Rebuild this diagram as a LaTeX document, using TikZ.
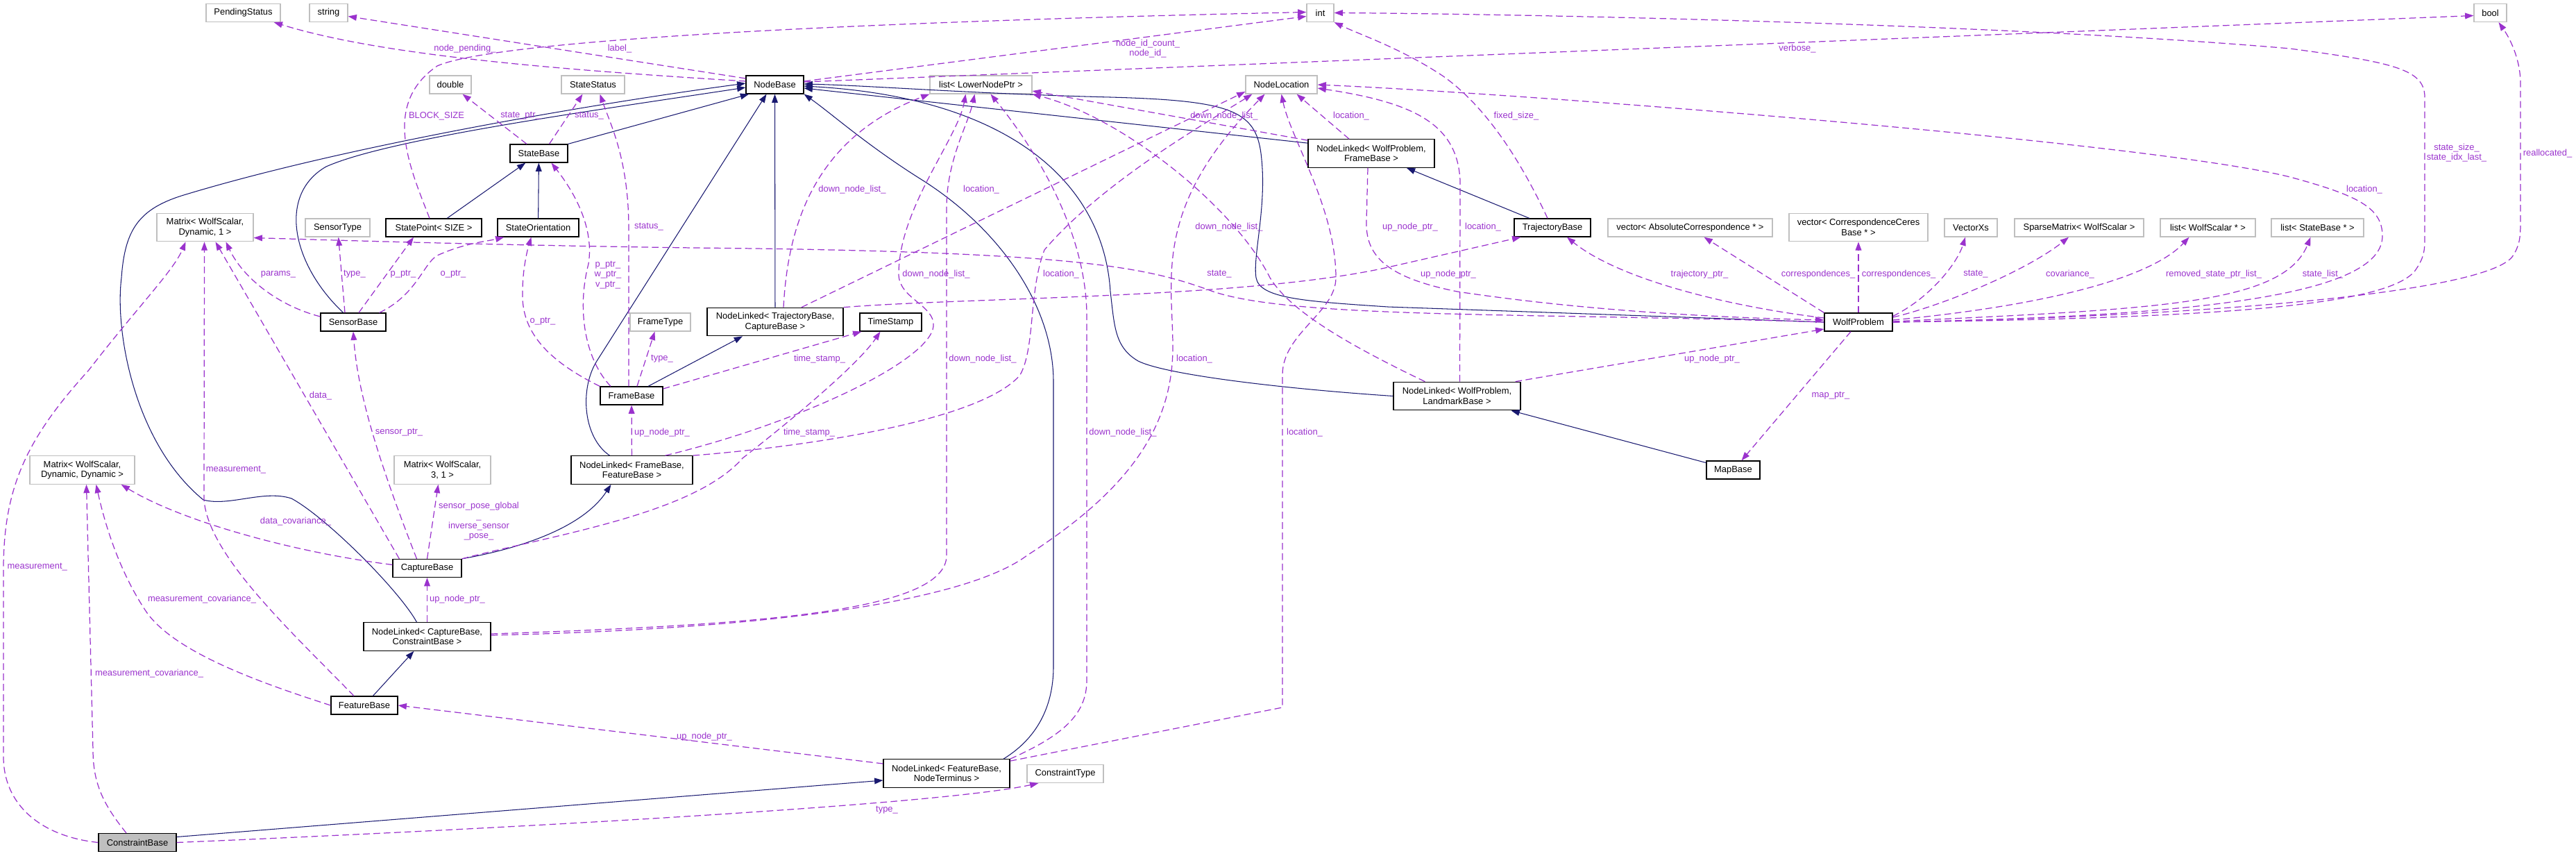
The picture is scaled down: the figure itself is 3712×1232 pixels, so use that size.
\documentclass[tikz,border=0pt]{standalone}
\usepackage{fontspec}
\setmainfont{Liberation Sans}
\usetikzlibrary{arrows.meta,calc}
\definecolor{edgeblue}{HTML}{191970}
\definecolor{edgepurple}{HTML}{9A32CD}
\definecolor{boxgray}{HTML}{BFBFBF}
\tikzset{
  cls/.style={draw=black, line width=0.7pt, fill=white, inner sep=0pt, minimum height=0.52cm, align=center, font=\fontsize{7.36}{8.2}\selectfont},
  ext/.style={cls, draw=boxgray},
  two/.style={minimum height=0.81cm},
  inh/.style={edgeblue, line width=0.6pt, -{Triangle[length=7pt,width=5pt]}},
  dep/.style={edgepurple, line width=0.7pt, dash pattern=on 5.5pt off 3pt, -{Triangle[length=7pt,width=5pt]}},
  lbl/.style={inner sep=0pt, align=center, font=\fontsize{7.36}{8.2}\selectfont}
}
\begin{document}
\begin{tikzpicture}[x=0.02cm, y=-0.02cm]
\useasboundingbox (0,0) rectangle (3712,1232);

% classes
\node[ext, minimum width=2.14cm] (pending) at (350.5,18.5) {PendingStatus};
\node[ext, minimum width=1.10cm] (string) at (473.5,18.5) {string};
\node[ext, minimum width=0.78cm] (int) at (1902.5,18.5) {int};
\node[ext, minimum width=0.94cm] (bool) at (3588.5,18.5) {bool};

\node[cls, minimum width=1.66cm] (nodebase) at (1116.5,122) {NodeBase};
\node[ext, minimum width=2.94cm] (lowerlist) at (1413.5,122) {list< LowerNodePtr >};
\node[ext, minimum width=2.06cm] (nodeloc) at (1846.5,122) {NodeLocation};
\node[ext, minimum width=1.20cm] (double) at (649,122) {double};
\node[ext, minimum width=1.82cm] (statestatus) at (854.5,122) {StateStatus};
\node[cls, minimum width=1.66cm] (statebase) at (776.5,221) {StateBase};
\node[cls, two, minimum width=3.64cm] (nlwpframe) at (1976,221) {NodeLinked< WolfProblem,\\ FrameBase >};

\node[ext, two, minimum width=2.78cm] (matdyn1) at (295.5,327.5) {Matrix< WolfScalar,\\ Dynamic, 1 >};
\node[ext, minimum width=1.86cm] (sensortype) at (486.5,328) {SensorType};
\node[cls, minimum width=2.76cm] (statepoint) at (625,328) {StatePoint< SIZE >};
\node[cls, minimum width=2.34cm] (stateorient) at (775.5,328) {StateOrientation};
\node[cls, minimum width=2.20cm] (trajbase) at (2237,328) {TrajectoryBase};
\node[ext, minimum width=4.74cm] (vecabs) at (2435.5,328) {vector< AbsoluteCorrespondence * >};
\node[ext, two, minimum width=4.00cm] (vecceres) at (2678,327.5) {vector< CorrespondenceCeres\\ Base * >};
\node[ext, minimum width=1.52cm] (vectorxs) at (2840,328) {VectorXs};
\node[ext, minimum width=3.72cm] (sparse) at (2996,328) {SparseMatrix< WolfScalar >};
\node[ext, minimum width=2.74cm] (listscalar) at (3181.5,328) {list< WolfScalar * >};
\node[ext, minimum width=2.66cm] (liststate) at (3339.5,328) {list< StateBase * >};

\node[cls, minimum width=1.88cm] (sensorbase) at (509,464) {SensorBase};
\node[ext, minimum width=1.74cm] (frametype) at (951.5,464) {FrameType};
\node[cls, two, minimum width=3.92cm] (nltrajcap) at (1117,463.5) {NodeLinked< TrajectoryBase,\\ CaptureBase >};
\node[cls, minimum width=1.78cm] (timestamp) at (1283.5,464) {TimeStamp};
\node[cls, minimum width=1.96cm] (wolfproblem) at (2678,464) {WolfProblem};

\node[cls, minimum width=1.80cm] (framebase) at (910,570) {FrameBase};
\node[cls, two, minimum width=3.66cm] (nlwpland) at (2099.5,570.5) {NodeLinked< WolfProblem,\\ LandmarkBase >};

\node[ext, two, minimum width=3.02cm] (matdyndyn) at (118.5,677) {Matrix< WolfScalar,\\ Dynamic, Dynamic >};
\node[ext, two, minimum width=2.78cm] (mat31) at (637.5,677) {Matrix< WolfScalar,\\ 3, 1 >};
\node[cls, two, minimum width=3.50cm] (nlframefeat) at (910.5,677) {NodeLinked< FrameBase,\\ FeatureBase >};
\node[cls, minimum width=1.54cm] (mapbase) at (2497.5,677) {MapBase};

\node[cls, minimum width=1.98cm] (capturebase) at (615.5,818.5) {CaptureBase};
\node[cls, two, minimum width=3.66cm] (nlcapcons) at (615.5,917) {NodeLinked< CaptureBase,\\ ConstraintBase >};
\node[cls, minimum width=1.92cm] (featurebase) at (525,1016) {FeatureBase};
\node[cls, two, minimum width=3.64cm] (nlfeatterm) at (1364,1114) {NodeLinked< FeatureBase,\\ NodeTerminus >};
\node[ext, minimum width=2.20cm] (constrtype) at (1535,1114.5) {ConstraintType};
\node[cls, fill=boxgray, minimum width=2.24cm] (constraintbase) at (198,1213.5) {ConstraintBase};

% inheritance
\draw[inh] (statebase.north east) -- (nodebase.200);
\draw[inh] (statepoint) -- (statebase);
\draw[inh] (stateorient) -- (statebase);
\draw[inh] (sensorbase) .. controls (420,380) and (400,280) .. (470,240) .. controls (560,200) and (850,160) .. ($(nodebase.west)+(0,4)$);
\draw[inh] ($(nlcapcons.north)+(-15,0)$) .. controls (575,850) and (470,745) .. (420,718) .. controls (380,705) and (330,730) .. (293,720) .. controls (195,640) and (165,480) .. (175,400) .. controls (180,330) and (200,300) .. (268,280) .. controls (500,210) and (850,150) .. ($(nodebase.west)+(0,-2)$);
\draw[inh] (nltrajcap) -- (nodebase);
\draw[inh] ($(nlframefeat.north)+(-32,0)$) .. controls (840,630) and (835,560) .. (860,520) -- ($(nodebase.south)+(-12,0)$);
\draw[inh] ($(framebase.north)+(24,0)$) -- ($(nltrajcap.south)+(-47,0)$);
\draw[inh] (capturebase.north east) .. controls (750,790) and (840,760) .. ($(nlframefeat.south)+(-30,0)$);
\draw[inh] (featurebase) -- (nlcapcons);
\draw[inh] ($(constraintbase.east)+(0,-8)$) -- ($(nlfeatterm.west)+(0,10)$);
\draw[inh] ($(nlfeatterm.north)+(82,0)$) .. controls (1500,1060) and (1518,1010) .. (1518,960) -- (1518,550) .. controls (1518,440) and (1440,330) .. (1330,260) .. controls (1250,210) and (1200,165) .. (nodebase.south east);
\draw[inh] (nlwpland.west) .. controls (1850,560) and (1680,540) .. (1640,520) .. controls (1606,500) and (1606,470) .. (1600,420) .. controls (1590,260) and (1450,140) .. ($(nodebase.east)+(0,2)$);
\draw[inh] ($(nlwpframe.north west)+(0,6)$) -- ($(nodebase.east)+(0,5)$);
\draw[inh] (wolfproblem.west) -- (2000,442) .. controls (1880,434) and (1815,430) .. (1810,400) .. controls (1805,370) and (1825,300) .. (1818,230) .. controls (1812,160) and (1780,145) .. (1600,140) .. controls (1400,135) and (1250,123) .. ($(nodebase.east)+(0,-1)$);
\draw[inh] (trajbase) -- (nlwpframe);
\draw[inh] (mapbase) -- (nlwpland);

% members
\draw[dep] ($(nodebase.west)+(0,-5)$) .. controls (800,100) and (550,80) .. (pending) node[lbl] (lpending) at (670,70) {node\_pending\_};
\draw[dep] ($(nodebase.west)+(0,-9)$) -- ($(string.east)+(0,5)$) node[lbl] (llabel) at (893,70) {label\_};
\draw[dep] ($(nodebase.east)+(0,-5)$) -- ($(int.west)+(0,5)$) node[lbl] (lnodeid) at (1654,70) {node\_id\_count\_\\node\_id\_};
\draw[dep] ($(statepoint.north)+(-6,0)$) .. controls (590,240) and (550,150) .. (630,95) .. controls (720,55) and (1300,30) .. ($(int.west)+(0,-1)$) node[lbl] (lblock) at (629,167) {BLOCK\_SIZE};
\draw[dep] ($(trajbase.north)+(-7,0)$) .. controls (2200,250) and (2150,160) .. (2080,110) .. controls (2020,70) and (1960,50) .. (int.south east) node[lbl] (lfixed) at (2185,167) {fixed\_size\_};
\draw[dep] ($(nodebase.east)+(0,-4)$) -- ($(bool.west)+(0,4)$) node[lbl] (lverbose) at (2590,70) {verbose\_};
\draw[dep] (wolfproblem.east) .. controls (3200,458) and (3440,440) .. (3480,390) .. controls (3494,370) and (3494,360) .. (3494,340) -- (3494,140) .. controls (3494,100) and (3450,90) .. (3300,70) .. controls (2900,35) and (2200,20) .. (int.east) node[lbl] (lstatesize) at (3540,220) {state\_size\_\\state\_idx\_last\_};
\draw[dep] (wolfproblem.east) .. controls (3200,455) and (3580,420) .. (3620,370) .. controls (3630,355) and (3632,345) .. (3632,320) -- (3632,120) .. controls (3632,90) and (3620,60) .. ($(bool.south)+(12,0)$) node[lbl] (lrealloc) at (3671,221) {reallocated\_};
\draw[dep] (wolfproblem.east) .. controls (3200,455) and (3433,420) .. (3433,340) .. controls (3433,300) and (3400,282) .. (3300,255) .. controls (3100,205) and (2200,135) .. (nodeloc.east) node[lbl] (lwploc) at (3407,273) {location\_};

\draw[dep] (statebase) -- (double) node[lbl] (lstateptr) at (750,167) {state\_ptr\_};
\draw[dep] ($(statebase.north)+(15,0)$) -- ($(statestatus.south)+(-15,0)$) node[lbl] (lstatus) at (849,167) {status\_};
\draw[dep] ($(framebase.north)+(-4,0)$) -- (906,330) .. controls (906,230) and (880,180) .. ($(statestatus.south)+(10,0)$) node[lbl] (lstatus2) at (935,327) {status\_};
\draw[dep] ($(framebase.north)+(-30,0)$) .. controls (845,520) and (830,450) .. (848,380) .. controls (856,330) and (830,280) .. ($(statebase.south)+(18,0)$) node[lbl] (lpptr) at (876,396) {p\_ptr\_\\w\_ptr\_\\v\_ptr\_};
\draw[dep] (framebase.north west) .. controls (790,520) and (755,480) .. (753,430) .. controls (752,390) and (760,360) .. ($(stateorient.south)+(-10,0)$) node[lbl] (loptr) at (782,463) {o\_ptr\_};
\draw[dep] ($(framebase.north)+(8,0)$) -- ($(frametype.south)+(-8,0)$) node[lbl] (ltype) at (954,517) {type\_};
\draw[dep] ($(framebase.east)+(0,-10)$) -- ($(timestamp.south west)+(3,0)$) node[lbl] (lstamp) at (1181,517) {time\_stamp\_};
\draw[dep] (capturebase.north east) .. controls (800,770) and (1000,740) .. (1070,660) .. controls (1160,590) and (1240,520) .. ($(timestamp.south)+(-15,0)$) node[lbl] (lstamp2) at (1166,623) {time\_stamp\_};

\draw[dep] ($(sensorbase.west)+(0,-8)$) .. controls (400,440) and (350,400) .. ($(matdyn1.south)+(30,0)$) node[lbl] (lparams) at (401,395) {params\_};
\draw[dep] ($(sensorbase.north)+(-12,0)$) -- (sensortype) node[lbl] (ltype2) at (511,395) {type\_};
\draw[dep] ($(sensorbase.north)+(8,0)$) -- ($(statepoint.south)+(-29,0)$) node[lbl] (lpptr2) at (581,395) {p\_ptr\_};
\draw[dep] ($(sensorbase.north east)+(-10,0)$) .. controls (600,425) and (610,380) .. (630,368) .. controls (670,350) and (700,348) .. ($(stateorient.south west)+(10,0)$) node[lbl] (loptr2) at (653,395) {o\_ptr\_};

\draw[dep] (constraintbase.west) .. controls (60,1205) and (5,1160) .. (5,1090) -- (5,820) .. controls (5,700) and (40,630) .. (128,533) .. controls (200,440) and (250,390) .. ($(matdyn1.south)+(-28,0)$) node[lbl, anchor=west] (lmeas) at (10,817) {measurement\_};
\draw[dep] ($(featurebase.north)+(-15,0)$) .. controls (420,910) and (300,800) .. (294,720) -- ($(matdyn1.south)+(-1,0)$) node[lbl] (lmeas2) at (340,677) {measurement\_};
\draw[dep] ($(capturebase.north west)+(10,0)$) -- ($(matdyn1.south)+(15,0)$) node[lbl] (ldata) at (462,570) {data\_};
\draw[dep] ($(constraintbase.north)+(-16,0)$) .. controls (150,1160) and (134,1130) .. (134,1080) -- ($(matdyndyn.south)+(6,0)$) node[lbl] (lmcov) at (215,970) {measurement\_covariance\_};
\draw[dep] (featurebase.west) .. controls (380,985) and (250,940) .. (210,880) .. controls (170,820) and (150,750) .. ($(matdyndyn.south)+(20,0)$) node[lbl] (lmcov2) at (291,863) {measurement\_covariance\_};
\draw[dep] ($(capturebase.west)+(0,-5)$) .. controls (420,795) and (260,750) .. ($(matdyndyn.south east)+(-20,0)$) node[lbl] (ldcov) at (426,751) {data\_covariance\_};
\draw[dep] (capturebase.north) -- ($(mat31.south)+(-6,0)$) node[lbl] (lpose) at (690,751) {sensor\_pose\_global\\\_\\inverse\_sensor\\\_pose\_};
\draw[dep] ($(capturebase.north)+(-15,0)$) .. controls (540,650) and (515,560) .. (sensorbase.south) node[lbl] (lsensor) at (575,623) {sensor\_ptr\_};
\draw[dep] (nlcapcons) -- (capturebase) node[lbl] (lup) at (659,863) {up\_node\_ptr\_};
\draw[dep] ($(nlfeatterm.west)+(0,-14)$) -- (featurebase.east) node[lbl] (lup2) at (1015,1061) {up\_node\_ptr\_};
\draw[dep] (constraintbase.east) .. controls (700,1195) and (1350,1160) .. ($(constrtype.south west)+(17,0)$) node[lbl] (ltype3) at (1278,1167) {type\_};
\draw[dep] (nlframefeat) -- (framebase) node[lbl] (lup3) at (954,623) {up\_node\_ptr\_};

\draw[dep] ($(wolfproblem.west)+(0,-6)$) .. controls (2480,440) and (2330,400) .. ($(trajbase.south)+(21,0)$) node[lbl] (ltraj) at (2449,395) {trajectory\_ptr\_};
\draw[dep] (wolfproblem.north west) -- ($(vecabs.south)+(20,0)$) node[lbl] (lcorr) at (2620,395) {correspondences\_};
\draw[dep] (wolfproblem) -- (vecceres) node[lbl] (lcorr2) at (2736,395) {correspondences\_};
\draw[dep] ($(wolfproblem.north east)+(0,5)$) .. controls (2780,430) and (2820,380) .. ($(vectorxs.south)+(-8,0)$) node[lbl] (lstate) at (2847,395) {state\_};
\draw[dep] ($(wolfproblem.east)+(0,-7)$) .. controls (2800,440) and (2920,390) .. ($(sparse.south)+(-15,0)$) node[lbl] (lcov) at (2983,395) {covariance\_};
\draw[dep] ($(wolfproblem.east)+(0,-3)$) .. controls (2950,440) and (3100,400) .. ($(listscalar.south)+(-27,0)$) node[lbl] (lremoved) at (3190,395) {removed\_state\_ptr\_list\_};
\draw[dep] ($(wolfproblem.east)+(0,-1)$) .. controls (3100,445) and (3290,440) .. ($(liststate.south)+(-10,0)$) node[lbl] (lstatelist) at (3347,395) {state\_list\_};
\draw[dep] ($(wolfproblem.south)+(-11,0)$) -- ($(mapbase.north)+(12,0)$) node[lbl] (lmap) at (2638,570) {map\_ptr\_};
\draw[dep] (wolfproblem.west) .. controls (2200,450) and (1850,460) .. (1740,417) .. controls (1650,385) and (1550,362) .. (1000,357) .. controls (700,353) and (450,345) .. ($(matdyn1.east)+(0,15)$) node[lbl] (lstate2) at (1757,395) {state\_};

\draw[dep] ($(nlwpframe.south)+(-5,0)$) -- (1969,320) .. controls (1968,370) and (2000,400) .. (2100,420) .. controls (2300,450) and (2500,458) .. ($(wolfproblem.west)+(0,-3)$) node[lbl] (lup4) at (2032,327) {up\_node\_ptr\_};
\draw[dep] ($(nlwpland.north east)+(-8,0)$) -- ($(wolfproblem.west)+(0,10)$) node[lbl] (lup5) at (2467,517) {up\_node\_ptr\_};
\draw[dep] (nltrajcap.north east) .. controls (1400,428) and (1800,430) .. (2000,385) -- ($(trajbase.south west)+(10,0)$) node[lbl] (lup6) at (2087,395) {up\_node\_ptr\_};

% node links: down_node_list_ and location_
\draw[dep] ($(nltrajcap.north)+(38,0)$) -- ($(nodeloc.west)+(0,10)$) node[lbl] (lloc1) at (1414,273) {location\_};
\draw[dep] ($(nltrajcap.north)+(12,0)$) .. controls (1135,330) and (1170,200) .. (lowerlist.south west) node[lbl] (ldown1) at (1228,273) {down\_node\_list\_};
\draw[dep] ($(nlframefeat.north east)+(-40,0)$) .. controls (1150,610) and (1340,520) .. (1345,470) .. controls (1348,440) and (1295,430) .. (1295,395) .. controls (1295,300) and (1380,200) .. ($(lowerlist.south)+(-22,0)$) node[lbl] (ldown2) at (1349,395) {down\_node\_list\_};
\draw[dep] (nlframefeat.north east) .. controls (1200,640) and (1420,600) .. (1470,540) .. controls (1492,500) and (1482,420) .. (1505,360) .. controls (1590,260) and (1750,170) .. ($(nodeloc.south west)+(10,0)$) node[lbl] (lloc2) at (1529,395) {location\_};
\draw[dep] ($(nlcapcons.east)+(0,-4)$) .. controls (1100,900) and (1364,880) .. (1364,800) -- (1364,300) .. controls (1364,230) and (1395,180) .. ($(lowerlist.south)+(-9,0)$) node[lbl] (ldown3) at (1416,517) {down\_node\_list\_};
\draw[dep] ($(nlcapcons.east)+(0,-2)$) .. controls (1150,905) and (1400,860) .. (1480,800) .. controls (1620,710) and (1690,620) .. (1690,500) .. controls (1690,400) and (1660,300) .. ($(nodeloc.south)+(-24,0)$) node[lbl] (lloc3) at (1721,517) {location\_};
\draw[dep] (nlfeatterm.north east) .. controls (1530,1060) and (1566,1030) .. (1566,980) -- (1566,450) .. controls (1563,320) and (1480,200) .. ($(lowerlist.south)+(14,0)$) node[lbl] (ldown4) at (1618,623) {down\_node\_list\_};
\draw[dep] ($(nlfeatterm.north east)+(0,3)$) -- (1848,1019) -- (1848,540) .. controls (1848,480) and (1925,450) .. (1925,400) .. controls (1925,300) and (1860,200) .. (nodeloc.south) node[lbl] (lloc4) at (1880,623) {location\_};
\draw[dep] ($(nlwpframe.north)+(-32,0)$) -- ($(nodeloc.south east)+(-30,0)$) node[lbl] (lloc5) at (1947,167) {location\_};
\draw[dep] ($(nlwpframe.north west)+(0,2)$) -- ($(lowerlist.east)+(0,9)$) node[lbl] (ldown5) at (1764,167) {down\_node\_list\_};
\draw[dep] ($(nlwpland.north)+(4,0)$) -- (2104,260) .. controls (2100,180) and (2040,148) .. ($(nodeloc.east)+(0,5)$) node[lbl] (lloc6) at (2137,327) {location\_};
\draw[dep] ($(nlwpland.north west)+(46,0)$) .. controls (1950,500) and (1860,450) .. (1830,400) .. controls (1780,300) and (1620,170) .. (lowerlist.south east) node[lbl] (ldown6) at (1771,327) {down\_node\_list\_};
\end{tikzpicture}
\end{document}
